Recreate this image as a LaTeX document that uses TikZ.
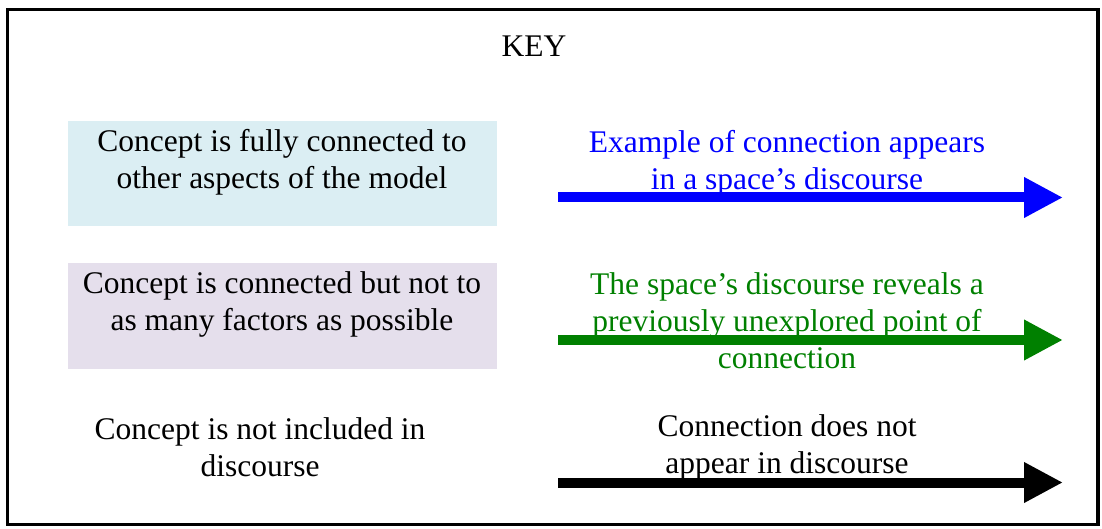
\documentclass[tikz,border=0pt]{standalone}
\usepackage{fontspec}
\setmainfont{Liberation Serif}
\usetikzlibrary{arrows.meta}
\definecolor{keyblue}{RGB}{219,238,243}
\definecolor{keylilac}{RGB}{229,223,236}
\definecolor{linkblue}{RGB}{0,0,255}
\definecolor{linkgreen}{RGB}{0,128,0}
\tikzset{
  keytext/.style={align=center, inner sep=0pt, font=\fontsize{31.5}{37}\selectfont},
  linkarrow/.style={line width=10pt, -{Triangle[length=39pt 0 0,width=38pt 0 0]}},
}
\begin{document}
\begin{tikzpicture}[x=1pt,y=-1pt]
  \useasboundingbox (0,0) rectangle (1102,529);
  % outer frame
  \draw[line width=3.5pt] (7.5,9.5) rectangle (1098,524.5);

  \node[keytext] (key) at (534,46) {KEY};

  % concept swatches
  \fill[keyblue] (68,121) rectangle (497,226);
  \fill[keylilac] (68,263) rectangle (497,369);
  \node[keytext] (full) at (282,162) {Concept is fully connected to\\other aspects of the model};
  \node[keytext] (part) at (282,304) {Concept is connected but not to\\as many factors as possible};
  \node[keytext] (none) at (260,447) {Concept is not included in\\discourse};

  % connection types
  \node[keytext, text=linkblue] (ex) at (787,163) {Example of connection appears\\in a space’s discourse};
  \node[keytext, text=linkgreen] (rev) at (787,321) {The space’s discourse reveals a\\previously unexplored point of\\connection};
  \node[keytext] (no) at (787,447.5) {Connection does not\\appear in discourse};

  \coordinate (b0) at (558,197.5);  \coordinate (b1) at (1063,197.5);
  \coordinate (g0) at (558,340);    \coordinate (g1) at (1063,340);
  \coordinate (k0) at (558,482.5);  \coordinate (k1) at (1063,482.5);
  \draw[linkarrow, linkblue] (b0) -- (b1);
  \draw[linkarrow, linkgreen] (g0) -- (g1);
  \draw[linkarrow, black] (k0) -- (k1);
\end{tikzpicture}
\end{document}
